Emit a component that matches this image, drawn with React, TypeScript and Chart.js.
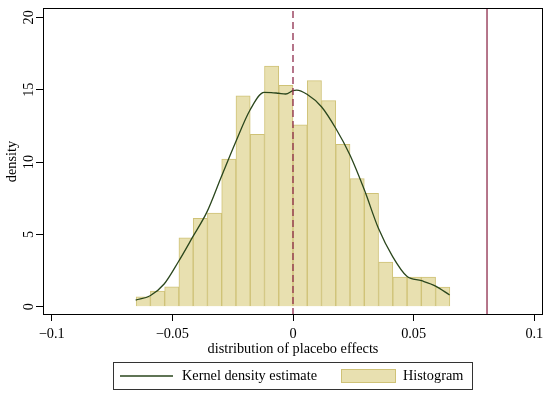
import React, { useEffect, useRef } from "react";
import { Chart, registerables } from "chart.js";

Chart.register(...registerables);

// ---- data ----
const binCenters = [
  -0.06205, -0.05614, -0.05023, -0.04432, -0.03841, -0.0325, -0.02659, -0.02068,
  -0.01477, -0.00886, -0.00295, 0.00295, 0.00886, 0.01477, 0.02068, 0.02659,
  0.0325, 0.03841, 0.04432, 0.05023, 0.05614, 0.06205,
];
const histDensity = [
  0.69, 1.08, 1.38, 4.77, 6.11, 6.48, 10.21, 14.58, 11.91, 16.63, 15.3, 12.56,
  15.62, 14.24, 11.22, 8.85, 7.84, 3.09, 2.05, 2.05, 2.05, 1.36,
];
const kdeX = [
  -0.0652, -0.0592, -0.0534, -0.0475, -0.0415, -0.0356, -0.0297, -0.0237, -0.0178,
  -0.012, -0.009, -0.006, -0.003, 0.0, 0.0015, 0.0058, 0.0118, 0.0177, 0.0236,
  0.0296, 0.0354, 0.0413, 0.0472, 0.0532, 0.0591, 0.0649,
];
const kdeY = [
  0.46, 0.76, 1.57, 3.11, 4.84, 6.57, 8.98, 11.4, 13.59, 14.81, 14.8, 14.75, 14.7,
  14.93, 14.97, 14.68, 13.82, 12.33, 10.48, 8.06, 5.42, 3.46, 2.1, 1.8, 1.43, 0.81,
];
const dashedRefX = [0];
const solidRefX = [0.0804];
const xTicks = [-0.1, -0.05, 0, 0.05, 0.1];
const yTicks = [0, 5, 10, 15, 20];
const xRange = [-0.1036, 0.1036];
const yRange = [-0.57, 20.64];

const xTitle = "distribution of placebo effects";
const yTitle = "density";
const kdeLabel = "Kernel density estimate";
const histLabel = "Histogram";

// ---- styles ----
const SERIF = "'Liberation Serif', 'Times New Roman', serif";
const FS = 14.3;
const BAR_FILL = "#e8e0b0";
const BAR_EDGE = "#cfc277";
const KDE_COLOR = "#2a461c";
const REF_COLOR = "#8e2c4c";
const INK = "#000000";

const fmt = (v: number) => (v === 0 ? "0" : (v < 0 ? "\u2212" : "") + String(Math.abs(v)));

const decorPlugin = {
  id: "decor",
  afterDraw(chart: any) {
    const { ctx, chartArea } = chart;
    const ys = chart.scales.y;
    ctx.save();
    // frame
    ctx.strokeStyle = INK;
    ctx.lineWidth = 1;
    ctx.strokeRect(
      Math.round(chartArea.left) + 0.5,
      Math.round(chartArea.top) + 0.5,
      Math.round(chartArea.right - chartArea.left) - 1,
      Math.round(chartArea.bottom - chartArea.top) - 1
    );
    // rotated y tick labels
    ctx.fillStyle = INK;
    ctx.font = `${FS}px ${SERIF}`;
    ctx.textAlign = "center";
    ctx.textBaseline = "middle";
    for (const v of yTicks) {
      const y = ys.getPixelForValue(v);
      ctx.save();
      ctx.translate(29, y);
      ctx.rotate(-Math.PI / 2);
      ctx.fillText(fmt(v), 0, 0);
      ctx.restore();
    }
    // legend
    ctx.strokeStyle = "#333333";
    ctx.lineWidth = 1;
    ctx.strokeRect(113.5, 362.5, 359, 27);
    ctx.strokeStyle = KDE_COLOR;
    ctx.lineWidth = 1.3;
    ctx.beginPath();
    ctx.moveTo(120, 376);
    ctx.lineTo(173, 376);
    ctx.stroke();
    ctx.fillStyle = BAR_FILL;
    ctx.fillRect(341, 369, 55, 14);
    ctx.strokeStyle = BAR_EDGE;
    ctx.lineWidth = 1;
    ctx.strokeRect(341.5, 369.5, 54, 13);
    ctx.fillStyle = INK;
    ctx.textAlign = "left";
    ctx.textBaseline = "middle";
    ctx.fillText(kdeLabel, 182, 376.5);
    ctx.fillText(histLabel, 403, 376.5);
    ctx.restore();
  },
};

export default function App() {
  const ref = useRef<HTMLCanvasElement | null>(null);
  useEffect(() => {
    document.body.style.margin = "0";
    const canvas = ref.current;
    if (!canvas) return;
    const chart = new Chart(canvas, {
      type: "bar",
      data: {
        datasets: [
          {
            type: "line",
            label: "dashed",
            data: dashedRefX.flatMap((x) => [
              { x, y: yRange[0] },
              { x, y: yRange[1] },
            ]),
            borderColor: REF_COLOR,
            borderWidth: 1.3,
            borderDash: [7, 4],
            pointRadius: 0,
            order: 0,
          } as any,
          {
            type: "line",
            label: "solid",
            data: solidRefX.flatMap((x) => [
              { x, y: yRange[0] },
              { x, y: yRange[1] },
            ]),
            borderColor: REF_COLOR,
            borderWidth: 1.3,
            pointRadius: 0,
            order: 0,
          } as any,
          {
            type: "line",
            label: kdeLabel,
            data: kdeX.map((x, i) => ({ x, y: kdeY[i] })),
            borderColor: KDE_COLOR,
            borderWidth: 1.3,
            pointRadius: 0,
            cubicInterpolationMode: "monotone",
            order: 1,
          } as any,
          {
            type: "bar",
            label: histLabel,
            data: binCenters.map((x, i) => ({ x, y: histDensity[i] })),
            backgroundColor: BAR_FILL,
            borderColor: BAR_EDGE,
            borderWidth: 1,
            barPercentage: 1,
            categoryPercentage: 1,
            order: 2,
          } as any,
        ],
      },
      options: {
        responsive: false,
        animation: false,
        events: [],
        layout: { padding: { left: 0, top: 8, right: 7, bottom: 36 } },
        plugins: { legend: { display: false }, tooltip: { enabled: false } },
        scales: {
          x: {
            type: "linear",
            min: xRange[0],
            max: xRange[1],
            offset: false,
            afterBuildTicks: (s: any) => {
              s.ticks = xTicks.map((value) => ({ value }));
            },
            afterFit: (s: any) => {
              s.height = 45;
            },
            ticks: {
              color: INK,
              font: { family: SERIF, size: FS },
              padding: 5,
              maxRotation: 0,
              autoSkip: false,
              callback: (v: any) => fmt(Number(v)),
            },
            grid: {
              display: true,
              offset: false,
              drawOnChartArea: false,
              drawTicks: true,
              tickLength: 6,
              color: INK,
              lineWidth: 1,
            },
            border: { display: false },
            title: {
              display: true,
              text: xTitle,
              color: INK,
              font: { family: SERIF, size: FS },
              padding: { top: 2, bottom: 2 },
            },
          },
          y: {
            type: "linear",
            min: yRange[0],
            max: yRange[1],
            afterBuildTicks: (s: any) => {
              s.ticks = yTicks.map((value) => ({ value }));
            },
            afterFit: (s: any) => {
              s.width = 43;
            },
            ticks: { display: false },
            grid: {
              display: true,
              drawOnChartArea: false,
              drawTicks: true,
              tickLength: 7,
              color: INK,
              lineWidth: 1,
            },
            border: { display: false },
            title: {
              display: true,
              text: yTitle,
              color: INK,
              font: { family: SERIF, size: FS },
              padding: { top: 4, bottom: 4 },
            },
          },
        },
      },
      plugins: [decorPlugin],
    });
    return () => chart.destroy();
  }, []);
  return (
    <div style={{ width: 550, height: 396, background: "#fff" }}>
      <canvas ref={ref} width={550} height={396} />
    </div>
  );
}
